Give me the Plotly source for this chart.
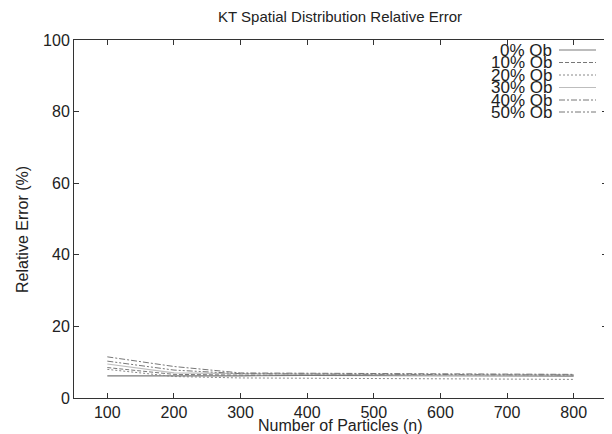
import plotly.graph_objects as go

particles = [100, 200, 300, 400, 500, 600, 700, 800]
labels = ["0% Ob", "10% Ob", "20% Ob", "30% Ob", "40% Ob", "50% Ob"]
err_0 = [6.2, 6.1, 6.2, 6.3, 6.2, 6.2, 6.1, 6.1]
err_10 = [8.5, 6.6, 6.4, 6.4, 6.3, 6.3, 6.3, 6.3]
err_20 = [8.0, 6.0, 5.6, 5.5, 5.4, 5.3, 5.2, 5.2]
err_30 = [9.5, 7.0, 6.8, 6.6, 6.5, 6.4, 6.4, 6.4]
err_40 = [11.5, 8.8, 7.0, 6.9, 6.8, 6.7, 6.6, 6.6]
err_50 = [10.3, 7.8, 6.8, 6.7, 6.6, 6.5, 6.5, 6.4]
series = [err_0, err_10, err_20, err_30, err_40, err_50]

styles = [("#7a7a7a", "solid", 1.2), ("#777777", "4px,2px", 1.0), ("#888888", "2px,2px", 1.0),
          ("#bdbdbd", "solid", 1.2), ("#777777", "6px,2px,2px,2px", 1.0), ("#777777", "6px,2px,2px,2px,2px,2px", 1.0)]

fig = go.Figure()
for lab, ys, (c, d, w) in zip(labels, series, styles):
    fig.add_trace(go.Scatter(x=particles, y=ys, mode="lines", name=lab, showlegend=False,
                             line=dict(color=c, dash=d, width=w)))

# page body has an 8px margin: work in page pixels and shift
OFF = 8
W, H = 612 - OFF, 434 - OFF
L, R, T, B = 74 - OFF, 607 - OFF, 40 - OFF, 398 - OFF
def px(x): return (x - OFF - L) / (R - L)
def py(y): return (B - (y - OFF)) / (B - T)

# manual compact legend (gnuplot style)
row_y = [50, 62.5, 75, 87.5, 100, 112]
for lab, yy, (c, d, w) in zip(labels, row_y, styles):
    fig.add_annotation(x=px(554), y=py(yy), xref="paper", yref="paper", text=lab, showarrow=False,
                       xanchor="right", yanchor="middle", font=dict(size=17, color="#222"))
    fig.add_shape(type="line", xref="paper", yref="paper", x0=px(559), x1=px(596), y0=py(yy), y1=py(yy),
                  line=dict(color=c, dash=d, width=w))

# axis titles
fig.add_annotation(x=px(340), y=py(425), xref="paper", yref="paper", text="Number of Particles (n)",
                   showarrow=False, xanchor="center", yanchor="middle", font=dict(size=16, color="#222"))
fig.add_annotation(x=px(22), y=py(230), xref="paper", yref="paper", text="Relative Error (%)", textangle=-90,
                   showarrow=False, xanchor="center", yanchor="middle", font=dict(size=16, color="#222"))

fig.update_layout(
    width=W, height=H,
    margin=dict(l=L, r=W - R, t=T, b=H - B),
    paper_bgcolor="white", plot_bgcolor="white",
    font=dict(family="Liberation Sans, Arial, sans-serif", color="#222"),
    title=dict(text="KT Spatial Distribution Relative Error", x=(340 - OFF) / W, xanchor="center",
               y=1 - (17 - OFF) / H, yanchor="middle", font=dict(size=15)),
    xaxis=dict(range=[50, 850], tickvals=particles, ticks="inside", ticklen=5, showgrid=False, zeroline=False,
               showline=True, linecolor="#333", linewidth=1, mirror="ticks", tickcolor="#333", automargin=False,
               tickfont=dict(size=16)),
    yaxis=dict(range=[0, 100], tickvals=[0, 20, 40, 60, 80, 100], ticks="inside", ticklen=5, showgrid=False,
               zeroline=False, showline=True, linecolor="#333", linewidth=1, mirror="ticks", tickcolor="#333",
               automargin=False, tickfont=dict(size=16)),
)

fig.write_html("out.html")
